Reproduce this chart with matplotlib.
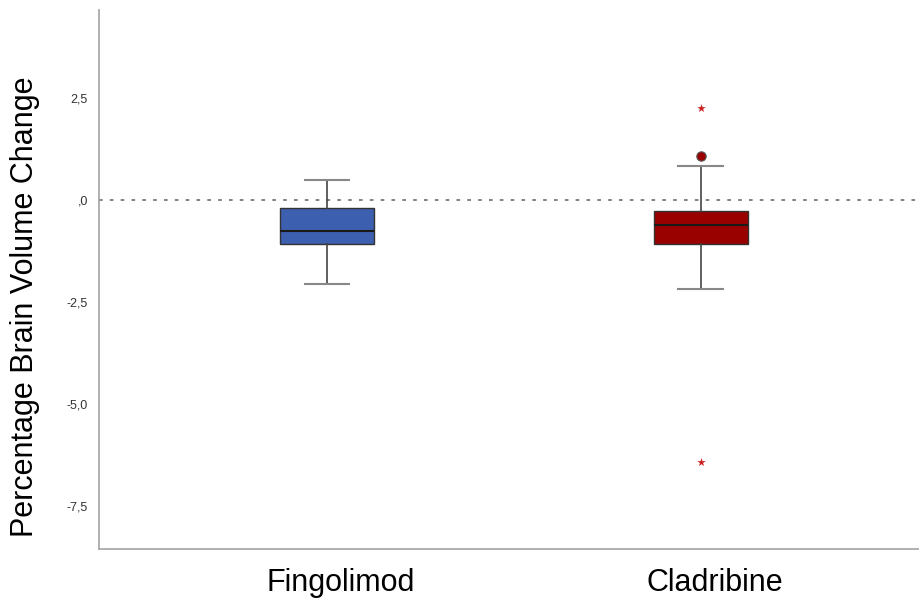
import matplotlib
matplotlib.use("Agg")
import matplotlib.pyplot as plt
import matplotlib.transforms as mtransforms

plt.rcParams['font.family'] = ['Liberation Sans', 'DejaVu Sans']

# 数据
groups = ["Fingolimod", "Cladribine"]
whislo = [-2.06, -2.18]
q1 = [-1.08, -1.08]
med = [-0.76, -0.61]
q3 = [-0.20, -0.27]
whishi = [0.49, 0.83]
outliers_circle = [[], [1.08]]
outliers_star = [[], [2.25, -6.42]]
box_colors = ["#3d5fb0", "#990000"]
yticks = [2.5, 0.0, -2.5, -5.0, -7.5]
ytick_labels = ["2,5", ",0", "-2,5", "-5,0", "-7,5"]

fig = plt.figure(figsize=(9.2, 6.09), dpi=100)
ax = fig.add_axes([0.1076, 0.0985, 0.8924, 0.8851])

stats = []
for i, g in enumerate(groups):
    stats.append({"label": g, "whislo": whislo[i], "q1": q1[i], "med": med[i],
                  "q3": q3[i], "whishi": whishi[i], "fliers": []})

positions = list(range(len(groups)))
bp = ax.bxp(stats, positions=positions, widths=0.25, patch_artist=True,
            showfliers=False, capwidths=0.12,
            medianprops=dict(color="#1a1a1a", linewidth=1.5),
            whiskerprops=dict(color="#444444", linewidth=1.2),
            capprops=dict(color="#888888", linewidth=1.5),
            boxprops=dict(edgecolor="#333333", linewidth=1.0))
for patch, c in zip(bp["boxes"], box_colors):
    patch.set_facecolor(c)

# outliers
for i in positions:
    if outliers_circle[i]:
        ax.scatter([i] * len(outliers_circle[i]), outliers_circle[i], s=45,
                   color=box_colors[i], edgecolor="#555555", linewidth=0.8, zorder=3)
    if outliers_star[i]:
        ax.scatter([i] * len(outliers_star[i]), outliers_star[i], s=40, marker="*",
                   color="#cc2222", linewidth=0, zorder=3)

ax.axhline(0, color="#777777", linestyle=(0, (2, 4)), linewidth=1.3, zorder=0)

ax.set_xlim(-0.61, 1.586)
ax.set_ylim(-8.55, 4.66)
ax.set_yticks(yticks)
ax.set_yticklabels(ytick_labels, fontsize=9, color="#333333")
ax.set_xticks(positions)
ax.set_xticklabels(groups, fontsize=22)
ax.tick_params(axis="y", length=0, pad=8)
ax.tick_params(axis="x", length=0, pad=14)
# x labels sit a little right of the boxes
offset = mtransforms.ScaledTranslation(14 / 100, 0, fig.dpi_scale_trans)
for lbl in ax.get_xticklabels():
    lbl.set_transform(lbl.get_transform() + offset)
ax.set_ylabel("Percentage Brain Volume Change", fontsize=22)
ax.yaxis.set_label_coords(-0.072, 0.45)

for s in ["top", "right"]:
    ax.spines[s].set_visible(False)
for s in ["left", "bottom"]:
    ax.spines[s].set_color("#aaaaaa")
    ax.spines[s].set_linewidth(1.3)

fig.savefig("out.png", dpi=100)
